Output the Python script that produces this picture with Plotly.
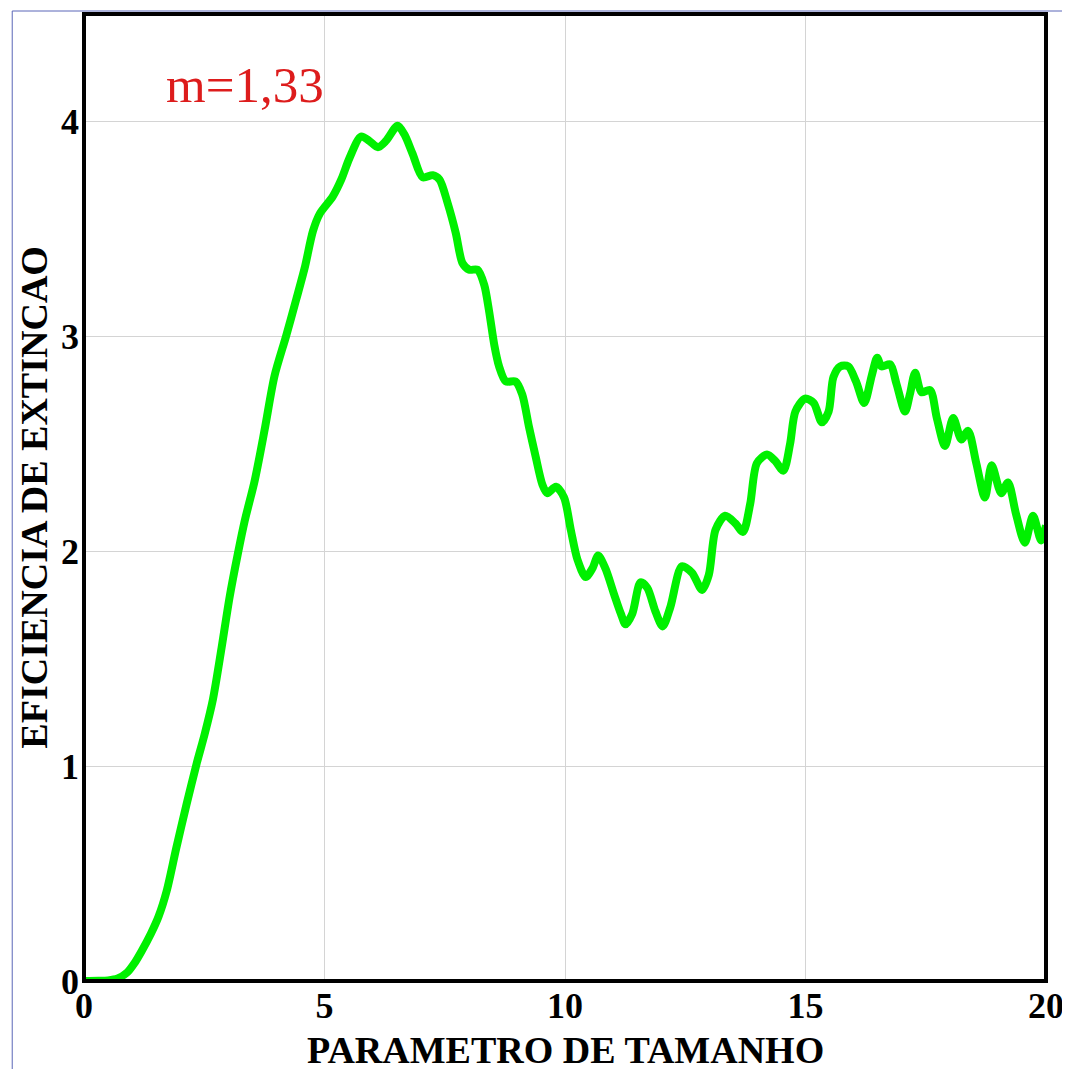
import plotly.graph_objects as go

# Data
size_param = [0, 0.3, 0.5, 0.7, 0.9, 1.04, 1.2, 1.39, 1.55, 1.72, 1.92, 2.13, 2.34, 2.51, 2.68, 2.86,
              3.03, 3.2, 3.34, 3.55, 3.755, 3.96, 4.2, 4.41, 4.59, 4.76, 4.9, 5.17, 5.35, 5.52, 5.76,
              5.93, 6.11, 6.28, 6.52, 6.66, 6.83, 7.04, 7.25, 7.39, 7.56, 7.73, 7.87, 8.01, 8.18,
              8.32, 8.42, 8.53, 8.63, 8.77, 8.97, 9.11, 9.25, 9.39, 9.53, 9.63, 9.81, 9.98, 10.12,
              10.26, 10.43, 10.57, 10.69, 10.84, 11.02, 11.16, 11.26, 11.40, 11.57, 11.71, 11.88,
              12.03, 12.19, 12.43, 12.64, 12.85, 12.99, 13.13, 13.33, 13.54, 13.70, 13.85, 13.99,
              14.20, 14.37, 14.54, 14.68, 14.79, 14.99, 15.17, 15.34, 15.48, 15.58, 15.72, 15.89,
              16.05, 16.22, 16.38, 16.49, 16.58, 16.76, 16.89, 17.07, 17.17, 17.28, 17.41, 17.59,
              17.73, 17.90, 18.07, 18.24, 18.38, 18.55, 18.73, 18.87, 19.07, 19.21, 19.38, 19.56,
              19.73, 19.90, 20.0]
extinction = [0, 0.001, 0.003, 0.012, 0.04, 0.08, 0.14, 0.22, 0.30, 0.42, 0.62, 0.82, 1.01, 1.15, 1.31,
              1.55, 1.79, 1.99, 2.14, 2.33, 2.565, 2.815, 3.0, 3.17, 3.32, 3.49, 3.57, 3.65, 3.73,
              3.83, 3.93, 3.91, 3.88, 3.91, 3.98, 3.94, 3.85, 3.74, 3.75, 3.73, 3.62, 3.48, 3.34,
              3.31, 3.31, 3.24, 3.12, 2.96, 2.86, 2.79, 2.79, 2.73, 2.58, 2.44, 2.31, 2.27, 2.30,
              2.25, 2.10, 1.96, 1.88, 1.92, 1.98, 1.92, 1.80, 1.71, 1.66, 1.71, 1.855, 1.83, 1.72,
              1.65, 1.74, 1.93, 1.90, 1.82, 1.89, 2.10, 2.165, 2.13, 2.09, 2.22, 2.41, 2.45, 2.42,
              2.375, 2.50, 2.65, 2.71, 2.69, 2.60, 2.65, 2.81, 2.86, 2.86, 2.79, 2.69, 2.82, 2.90,
              2.86, 2.87, 2.78, 2.65, 2.73, 2.83, 2.74, 2.75, 2.62, 2.49, 2.62, 2.52, 2.56, 2.41,
              2.25, 2.40, 2.27, 2.32, 2.17, 2.04, 2.165, 2.05, 2.12]

x_ticks = [0, 5, 10, 15, 20]
y_ticks = [0, 1, 2, 3, 4]
x_title = "PARAMETRO DE TAMANHO"
y_title = "EFICIENCIA DE EXTINCAO"
label_text = "m=1,33"

SERIF = "Liberation Serif, Times New Roman, serif"

fig = go.Figure()
fig.add_trace(go.Scatter(
    x=size_param, y=extinction, mode="lines",
    line=dict(color="#00f000", width=8, shape="spline", smoothing=0.8),
    hoverinfo="skip", showlegend=False,
))

# page has an 8px body margin; work in page pixels and convert
OFF = 8
W, H = 1062, 1061
L, R, T, B = 84 - OFF, 1049 - OFF, 14 - OFF, 981 - OFF

def px_x(p):  # page px -> paper
    return (p - OFF - L) / (R - L)

def px_y(p):
    return (B - (p - OFF)) / (B - T)

fig.update_layout(
    width=W, height=H,
    margin=dict(l=L, r=W - R, t=T, b=H - B),
    paper_bgcolor="white", plot_bgcolor="white",
    showlegend=False,
    xaxis=dict(range=[0, 20], tickvals=x_ticks, ticktext=[str(v) for v in x_ticks],
               showgrid=True, gridcolor="#d4d4d4", gridwidth=1, zeroline=False,
               showline=False, ticks="", ticklabelstandoff=0,
               tickfont=dict(family=SERIF, size=36, color="black", weight="bold")),
    yaxis=dict(range=[0, 4.5], tickvals=y_ticks, ticktext=[str(v) for v in y_ticks],
               showgrid=True, gridcolor="#d4d4d4", gridwidth=1, zeroline=False,
               showline=False, ticks="", ticklabelstandoff=4,
               tickfont=dict(family=SERIF, size=36, color="black", weight="bold")),
    shapes=[
        dict(type="rect", xref="paper", yref="paper", x0=0, x1=1, y0=0, y1=1,
             line=dict(color="black", width=4), layer="above"),
        dict(type="rect", xref="paper", yref="paper",
             x0=px_x(12), x1=px_x(1068), y0=px_y(1085), y1=px_y(11),
             line=dict(color="#5a67b8", width=1), layer="below"),
    ],
    annotations=[
        dict(text=label_text, x=1.66, y=4.17, xref="x", yref="y", xanchor="left", yanchor="middle",
             showarrow=False, font=dict(family=SERIF, size=51, color="#dd1c1c")),
        dict(text=x_title, x=0.5, y=px_y(1050), xref="paper", yref="paper",
             xanchor="center", yanchor="middle", showarrow=False,
             font=dict(family=SERIF, size=38, color="black", weight="bold")),
        dict(text=y_title, x=px_x(33), y=0.5, xref="paper", yref="paper", textangle=-90,
             xanchor="center", yanchor="middle", showarrow=False,
             font=dict(family=SERIF, size=38, color="black", weight="bold")),
    ],
)

fig.write_html("out.html")
